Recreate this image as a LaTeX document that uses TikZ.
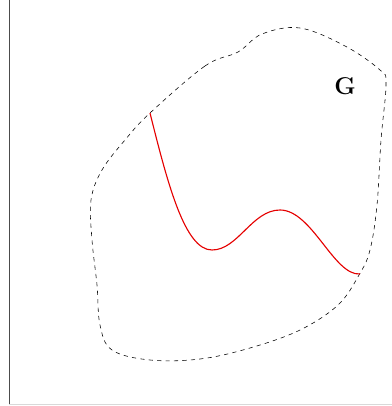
\documentclass[tikz,border=0pt]{standalone}
\usepackage{tikz}

\begin{document}
\begin{tikzpicture}[
    x=0.025cm, y=-0.025cm,
    every node/.style={font=\LARGE\bfseries},
    boundary/.style={dashed, thin, black},
    path/.style={red!90!black, thick}
  ]
  \useasboundingbox (0,0) rectangle (392,406);
  % frame
  \draw[black!70] (9,0) -- (9,404);
  \draw[black!15] (9,404) -- (392,404);
  % region G
  \draw[boundary] plot[smooth cycle, tension=0.6] coordinates {
    (150,113) (205,66) (238,52) (262,34) (300,28) (345,46)
    (380,70) (386,84) (381,140) (377,205) (370,250) (359,275)
    (338,305) (300,330) (250,348) (200,359) (150,360) (112,350)
    (100,325) (97,285) (92,240) (91,200) (102,170) (125,140)};
  \node (glabel) at (345,86) {G};
  % curve inside G
  \coordinate (start) at (150,113);
  \coordinate (finish) at (360,274);
  \draw[path] (start) .. controls (168,185) and (185,250) .. (212,250)
    .. controls (238,250) and (252,210) .. (280,210)
    .. controls (312,210) and (334,276) .. (finish);
\end{tikzpicture}
\end{document}
